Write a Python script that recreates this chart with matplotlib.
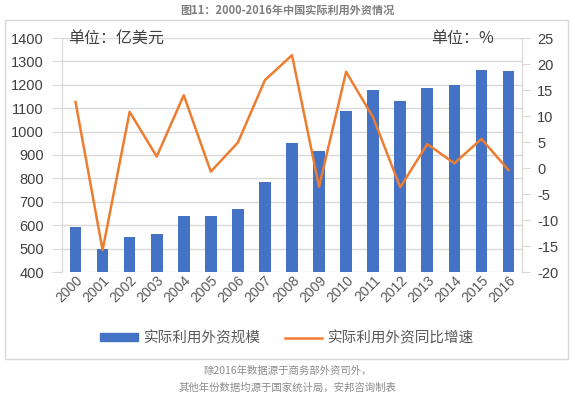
import matplotlib
matplotlib.use("Agg")
import matplotlib.pyplot as plt
from matplotlib.patches import Rectangle
from matplotlib.lines import Line2D

plt.rcParams['font.family'] = ['Noto Sans CJK SC', 'DejaVu Sans']
plt.rcParams['axes.unicode_minus'] = False

years = ['2000', '2001', '2002', '2003', '2004', '2005', '2006', '2007', '2008',
         '2009', '2010', '2011', '2012', '2013', '2014', '2015', '2016']
fdi_scale = [593.9, 496.7, 550.1, 561.4, 640.7, 638.1, 670.8, 783.4, 952.5,
             918.0, 1088.2, 1176.9, 1132.9, 1187.2, 1197.1, 1262.7, 1260.0]
fdi_growth = [12.7, -15.8, 10.8, 2.2, 14.0, -0.7, 4.9, 16.9, 21.7,
              -3.6, 18.5, 9.7, -3.7, 4.6, 0.9, 5.6, -0.4]

title = '图11：2000-2016年中国实际利用外资情况'
left_unit = '单位：亿美元'
right_unit = '单位：%'
legend_labels = ['实际利用外资规模', '实际利用外资同比增速']
footer = ['除2016年数据源于商务部外资司外，', '其他年份数据均源于国家统计局，安邦咨询制表']

W, H = 575, 395
fig = plt.figure(figsize=(W / 100, H / 100), dpi=100)
fig.patch.set_facecolor('white')

num_font = ['Liberation Sans', 'DejaVu Sans']

# chart frame
fig.add_artist(Rectangle((5 / W, 1 - 359 / H), 563 / W, 339 / H, transform=fig.transFigure,
                         fill=False, edgecolor='#d9d9d9', linewidth=1.0))

ax = fig.add_axes([62 / W, 1 - 272 / H, 460 / W, 234 / H])
x = list(range(len(years)))
ax.bar(x, fdi_scale, width=0.43, color='#4472C4', zorder=3)
ax.set_ylim(400, 1400)
ax.set_yticks(range(400, 1401, 100))
ax.set_xlim(-0.5, len(years) - 0.5)
ax.set_xticks(x)
ax.set_xticklabels(years, rotation=45, fontsize=10, color='#595959', family=num_font)
ax.tick_params(axis='x', length=0, pad=1)
ax.tick_params(axis='y', length=7, color='#d9d9d9', labelsize=10.5, labelcolor='#404040', pad=6)
for lbl in ax.get_yticklabels():
    lbl.set_family(num_font)
ax.grid(axis='y', color='#d9d9d9', linewidth=1.0, zorder=0)
for s in ['top', 'bottom']:
    ax.spines[s].set_visible(False)
ax.spines['left'].set_color('#d9d9d9')
ax.spines['right'].set_color('#d9d9d9')
ax.set_axisbelow(True)
for lbl in ax.get_xticklabels():
    lbl.set_ha('right')
    lbl.set_rotation_mode('anchor')

ax2 = ax.twinx()
ax2.plot(x, fdi_growth, color='#ED7D31', linewidth=1.8, zorder=4)
ax2.set_ylim(-20, 25)
ax2.set_yticks(range(-20, 26, 5))
ax2.tick_params(axis='y', length=6, color='#d9d9d9', labelsize=10.5, labelcolor='#404040', pad=5)
for lbl in ax2.get_yticklabels():
    lbl.set_family(num_font)
for s in ['top', 'bottom', 'left']:
    ax2.spines[s].set_visible(False)
ax2.spines['right'].set_color('#d9d9d9')

fig.text(68 / W, 1 - 38 / H, left_unit, fontsize=11.5, color='#404040', va='center', ha='left')
fig.text(494 / W, 1 - 38 / H, right_unit, fontsize=11.5, color='#404040', va='center', ha='right')

fig.text(0.5, 1 - 10 / H, title, fontsize=8, color='#7f7f7f', ha='center', va='center', fontweight='bold')

handles = [Rectangle((0, 0), 1, 1, color='#4472C4'),
           Line2D([0], [0], color='#ED7D31', linewidth=1.8)]
fig.legend(handles, legend_labels, loc='center', bbox_to_anchor=(0.5, 1 - 338 / H),
           ncol=2, frameon=False, fontsize=10.5, handlelength=2.6, handleheight=0.45,
           handletextpad=0.4, columnspacing=1.6, labelcolor='#595959')

fig.text(0.5, 1 - 371 / H, footer[0], fontsize=7.5, color='#8c8c8c', ha='center', va='center')
fig.text(0.5, 1 - 388 / H, footer[1], fontsize=7.5, color='#8c8c8c', ha='center', va='center')

fig.savefig('out.png', dpi=100)
